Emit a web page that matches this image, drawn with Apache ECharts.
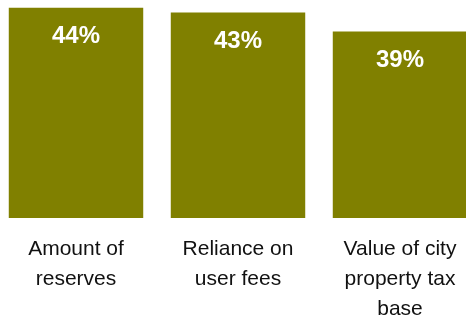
<!DOCTYPE html>
<html>
<head>
<meta charset="utf-8">
<script src="https://cdn.jsdelivr.net/npm/echarts@6/dist/echarts.min.js"></script>
<style>
  * { margin: 0; padding: 0; }
  body { background: #fff; }
  #chart { width: 466px; height: 316px; }
</style>
</head>
<body>
<div id="chart"></div>
<script>
var categories = ['Amount of\nreserves', 'Reliance on\nuser fees', 'Value of city\nproperty tax\nbase'];
var values = [44, 43, 39];

var chart = echarts.init(document.getElementById('chart'));
chart.setOption({
  animation: false,
  grid: {
    left: -5,
    right: -15,
    top: 0,
    bottom: 98,
    containLabel: false,
    outerBoundsMode: 'none'
  },
  xAxis: {
    type: 'category',
    data: categories,
    axisLine: { show: false },
    axisTick: { show: false },
    axisLabel: {
      interval: 0,
      margin: 16,
      color: '#111',
      fontFamily: 'Liberation Sans, Arial, sans-serif',
      fontSize: 21,
      lineHeight: 30
    }
  },
  yAxis: {
    type: 'value',
    min: 0,
    max: 45.6,
    show: false,
    splitLine: { show: false }
  },
  series: [{
    type: 'bar',
    data: values,
    barCategoryGap: '17%',
    itemStyle: { color: '#808000' },
    label: {
      show: true,
      position: 'insideTop',
      distance: 17,
      color: '#fff',
      fontWeight: 'bold',
      fontFamily: 'Liberation Sans, Arial, sans-serif',
      fontSize: 24,
      formatter: '{c}%'
    }
  }]
});
</script>
</body>
</html>
